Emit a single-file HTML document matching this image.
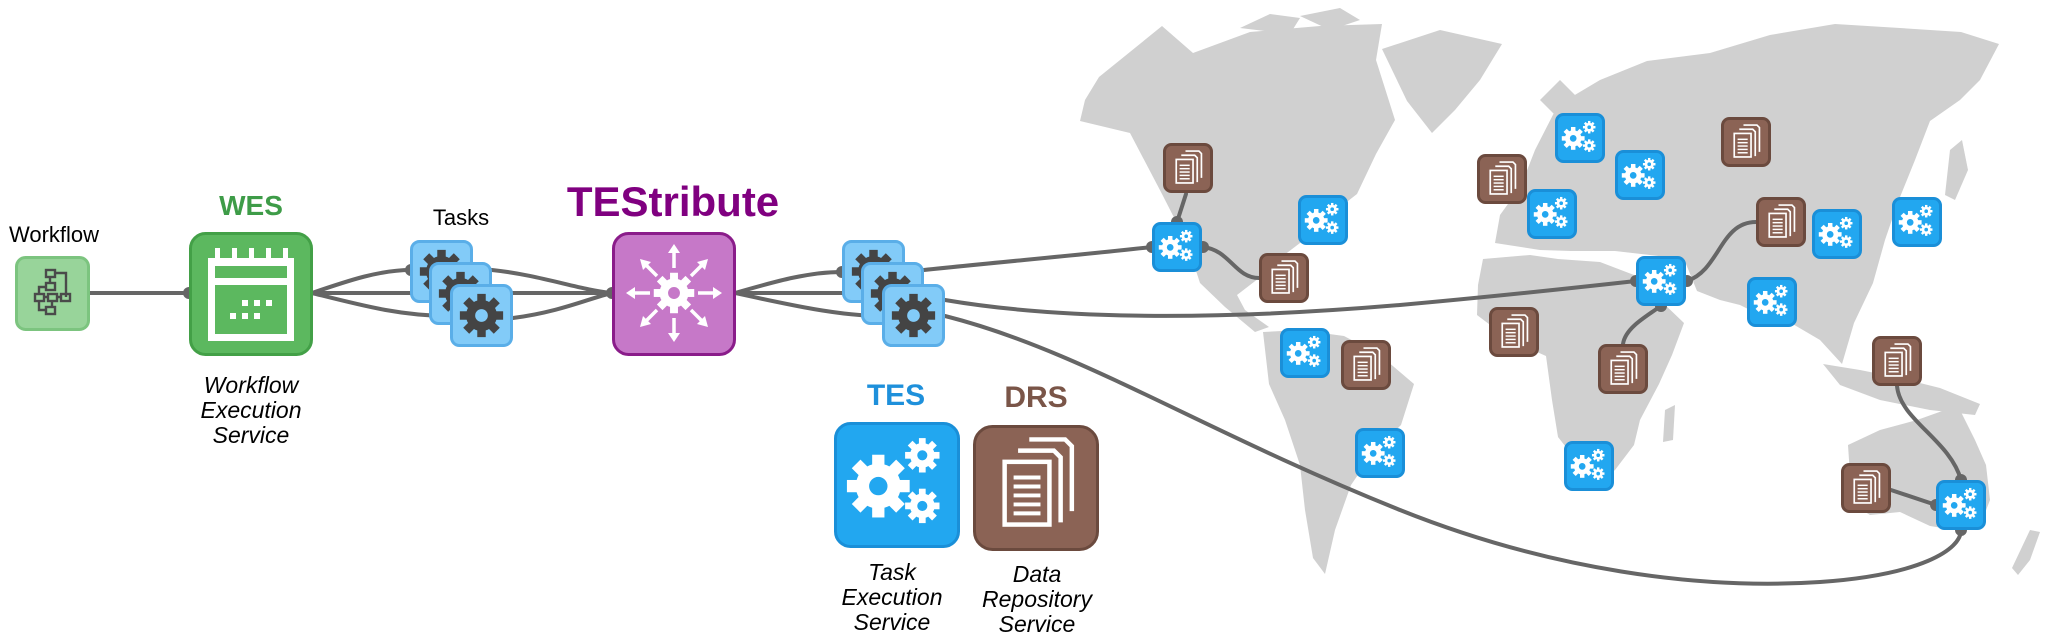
<!DOCTYPE html>
<html><head><meta charset="utf-8"><style>
html,body{margin:0;padding:0;background:#fff;}
svg{display:block;font-family:"Liberation Sans",sans-serif;}
</style></head><body>
<svg width="2067" height="634" viewBox="0 0 2067 634" xmlns="http://www.w3.org/2000/svg">
<defs>
<symbol id="gear" viewBox="-10 -10 20 20">
<g fill="currentColor">
<rect x="-1.8" y="-9.2" width="3.6" height="4" transform="rotate(0)"/>
<rect x="-1.8" y="-9.2" width="3.6" height="4" transform="rotate(45)"/>
<rect x="-1.8" y="-9.2" width="3.6" height="4" transform="rotate(90)"/>
<rect x="-1.8" y="-9.2" width="3.6" height="4" transform="rotate(135)"/>
<rect x="-1.8" y="-9.2" width="3.6" height="4" transform="rotate(180)"/>
<rect x="-1.8" y="-9.2" width="3.6" height="4" transform="rotate(225)"/>
<rect x="-1.8" y="-9.2" width="3.6" height="4" transform="rotate(270)"/>
<rect x="-1.8" y="-9.2" width="3.6" height="4" transform="rotate(315)"/>
<path fill-rule="evenodd" d="M-6.6,0a6.6,6.6 0 1,0 13.2,0a6.6,6.6 0 1,0 -13.2,0z M-2.7,0a2.7,2.7 0 1,1 5.4,0a2.7,2.7 0 1,1 -5.4,0z"/>
</g>
</symbol>
<symbol id="gears" viewBox="0 0 100 100">
<use href="#gear" x="2" y="20" width="62" height="62" color="#fff"/>
<use href="#gear" x="56" y="6" width="34" height="34" color="#fff"/>
<use href="#gear" x="56" y="52" width="34" height="34" color="#fff"/>
</symbol>
<symbol id="docs" viewBox="0 0 100 100">
<g fill="none" stroke="#fff" stroke-width="4">
<path d="M44,12 H76 L82,18 V76"/>
<path d="M34,22 H66 L72,28 V86"/>
<rect x="22" y="32" width="40" height="56"/>
</g>
<g stroke="#fff" stroke-width="3.5">
<line x1="30" y1="46" x2="54" y2="46"/><line x1="30" y1="54" x2="54" y2="54"/>
<line x1="30" y1="62" x2="54" y2="62"/><line x1="30" y1="70" x2="54" y2="70"/>
<line x1="30" y1="78" x2="54" y2="78"/>
</g>
</symbol>
<symbol id="bnode" viewBox="0 0 50 50">
<rect x="1.5" y="1.5" width="47" height="47" rx="7" fill="#22a7f0" stroke="#1a8fd8" stroke-width="3"/>
<use href="#gears" x="5" y="5" width="40" height="40"/>
</symbol>
<symbol id="dnode" viewBox="0 0 50 50">
<rect x="1.5" y="1.5" width="47" height="47" rx="7" fill="#8b6355" stroke="#6b4a3e" stroke-width="3"/>
<use href="#docs" x="4" y="3" width="42" height="42"/>
</symbol>
<symbol id="task" viewBox="0 0 63 63">
<rect x="1.5" y="1.5" width="60" height="60" rx="8" fill="#82cbf8" stroke="#5aaee8" stroke-width="3"/>
<use href="#gear" x="8" y="8" width="47" height="47" color="#444"/>
</symbol>
</defs>

<!-- world map -->
<g fill="#d0d0d0">
<path d="M1099,77 L1162,26 L1193,53 L1250,32 L1320,26 L1382,24 L1376,60 L1395,120 L1376,154 L1357,194 L1330,215 L1300,243 L1275,262 L1263,275 L1250,285 L1237,295 L1245,310 L1269,327 L1255,332 L1225,307 L1200,283 L1187,243 L1162,194 L1130,133 L1080,121 L1085,100 Z"/>
<path d="M1240,28 L1270,14 L1300,18 L1290,34 Z M1300,16 L1340,8 L1360,20 L1330,30 Z"/>
<path d="M1382,49 L1440,30 L1502,44 L1480,80 L1455,110 L1432,133 L1407,101 Z"/>
<path d="M1263,332 L1300,330 L1344,336 L1380,355 L1414,384 L1401,425 L1375,450 L1351,485 L1335,530 L1325,574 L1313,558 L1305,510 L1300,465 L1285,420 L1269,384 Z"/>
<path d="M1495,243 L1500,215 L1521,186 L1535,150 L1558,105 L1600,80 L1647,61 L1710,53 L1770,35 L1835,24 L1900,28 L1961,32 L1999,44 L1980,80 L1960,100 L1930,121 L1915,160 L1898,202 L1885,240 L1873,283 L1854,323 L1842,364 L1820,340 L1791,323 L1775,320 L1760,315 L1740,305 L1720,300 L1697,291 L1684,259 L1650,255 L1615,251 L1571,251 L1540,250 Z"/>
<path d="M1483,259 L1530,255 L1558,259 L1600,262 L1634,275 L1660,300 L1684,323 L1672,355 L1659,384 L1640,420 L1634,445 L1615,470 L1596,485 L1580,465 L1558,437 L1552,400 L1546,356 L1510,340 L1477,315 L1478,285 Z"/>
<path d="M1665,410 L1675,405 L1673,440 L1663,442 Z"/>
<path d="M1823,364 L1860,370 L1900,378 L1940,388 L1980,404 L1975,415 L1930,410 L1880,400 L1840,385 Z"/>
<path d="M1848,445 L1880,430 L1917,420 L1945,410 L1961,412 L1975,440 L1986,465 L1990,500 L1980,526 L1955,530 L1930,526 L1900,512 L1870,515 L1854,505 L1850,475 Z"/>
<path d="M2030,530 L2040,532 L2030,560 L2018,575 L2012,568 Z"/>
<path d="M1540,100 L1560,80 L1575,95 L1560,120 Z"/>
<path d="M1950,150 L1962,140 L1968,170 L1955,200 L1945,195 Z"/>
</g>

<!-- connectors -->
<g fill="none" stroke="#666" stroke-width="4" stroke-linecap="round">
<path d="M89,293 L189,293"/>
<path d="M312,293 C350,280 380,270 411,270"/>
<path d="M312,293 L430,293"/>
<path d="M312,293 C360,305 400,316 450,316"/>
<path d="M492,270 C540,275 580,290 612,293"/>
<path d="M513,293 L612,293"/>
<path d="M513,318 C560,312 590,298 612,293"/>
<path d="M735,293 C780,280 810,272 842,272"/>
<path d="M735,293 L860,293"/>
<path d="M735,293 C790,305 840,316 882,316"/>
<path d="M924,270 C1000,262 1080,255 1152,247"/>
<path d="M945,300 C1050,318 1200,322 1400,305 C1500,296 1600,285 1636,281"/>
<path d="M945,316 C1080,350 1200,430 1400,510 C1550,570 1700,590 1820,582 C1920,575 1961,550 1961,530"/>
<path d="M1177,222 L1186,194"/>
<path d="M1203,247 C1230,250 1235,278 1259,278"/>
<path d="M1687,281 C1720,270 1720,222 1756,222"/>
<path d="M1661,306 C1640,320 1625,330 1623,344"/>
<path d="M1897,386 C1900,420 1950,440 1961,480"/>
<path d="M1891,490 L1936,505"/>
</g>
<g fill="#666">
<circle cx="189" cy="293" r="6"/><circle cx="612" cy="293" r="6"/>
<circle cx="411" cy="270" r="6"/><circle cx="430" cy="293" r="6"/><circle cx="450" cy="316" r="6"/>
<circle cx="842" cy="272" r="6"/><circle cx="860" cy="293" r="6"/><circle cx="882" cy="316" r="6"/>
<circle cx="1152" cy="247" r="6"/><circle cx="1177" cy="222" r="6"/><circle cx="1203" cy="247" r="6"/>
<circle cx="1636" cy="281" r="6"/><circle cx="1687" cy="281" r="6"/><circle cx="1661" cy="306" r="6"/>
<circle cx="1961" cy="480" r="6"/><circle cx="1936" cy="505" r="6"/><circle cx="1961" cy="530" r="6"/>
</g>

<!-- Workflow -->
<text x="54" y="242" font-size="22" text-anchor="middle" fill="#000">Workflow</text>
<rect x="16.5" y="257.5" width="72" height="72" rx="9" fill="#98d49a" stroke="#7cc47f" stroke-width="3"/>
<g fill="none" stroke="#4a4a4a" stroke-width="2.4">
<rect x="46" y="270" width="9" height="7"/><rect x="46" y="283" width="9" height="7"/>
<rect x="35" y="294" width="9" height="7"/><rect x="48" y="294" width="9" height="7"/><rect x="61" y="294" width="9" height="7"/>
<rect x="46" y="307" width="9" height="7"/>
<path d="M50,277 V283 M55,273 H66 V297 M44,297 H48 M57,297 H61 M39,294 V287 H46 M39,301 V310 H46 M52,301 V307"/>
</g>

<!-- WES -->
<text x="251" y="215" font-size="28" font-weight="bold" text-anchor="middle" fill="#3e9c48">WES</text>
<rect x="190.5" y="233.5" width="121" height="121" rx="15" fill="#5cb85f" stroke="#43a047" stroke-width="3"/>
<g fill="#fff">
<rect x="208" y="258" width="86" height="8"/>
<rect x="215" y="248" width="5" height="18"/><rect x="232" y="248" width="5" height="18"/><rect x="249" y="248" width="5" height="18"/><rect x="266" y="248" width="5" height="18"/><rect x="283" y="248" width="5" height="18"/>
<path fill-rule="evenodd" d="M208,258 H294 V341 H208 Z M215,285 V334 H287 V285 Z M215,266 V278 H287 V266 Z"/>
<rect x="242" y="300" width="6" height="6"/><rect x="254" y="300" width="6" height="6"/><rect x="266" y="300" width="6" height="6"/>
<rect x="230" y="313" width="6" height="6"/><rect x="242" y="313" width="6" height="6"/><rect x="254" y="313" width="6" height="6"/>
</g>
<g font-size="23" font-style="italic" text-anchor="middle" fill="#000">
<text x="251" y="393">Workflow</text><text x="251" y="418">Execution</text><text x="251" y="443">Service</text>
</g>

<!-- Tasks left -->
<text x="461" y="225" font-size="22" text-anchor="middle" fill="#000">Tasks</text>
<use href="#task" x="410" y="240" width="63" height="63"/>
<use href="#task" x="429" y="262" width="63" height="63"/>
<use href="#task" x="450" y="284" width="63" height="63"/>

<!-- TEStribute -->
<text x="673" y="216" font-size="42" font-weight="bold" text-anchor="middle" fill="#800080">TEStribute</text>
<rect x="613.5" y="233.5" width="121" height="121" rx="15" fill="#c678c8" stroke="#8a1c8a" stroke-width="3"/>
<use href="#gear" x="652" y="271" width="44" height="44" color="#fff"/>
<g stroke="#fff" stroke-width="3.5" fill="none">
<path d="M674,268 V250 M674,318 V336 M650,293 H632 M698,293 H716 M657,276 L644,263 M691,276 L704,263 M657,310 L644,323 M691,310 L704,323"/>
</g>
<g fill="#fff">
<path d="M674,244 L668,253 H680Z M674,342 L668,333 H680Z M626,293 L635,287 V299Z M722,293 L713,287 V299Z"/>
<path d="M640,259 L651,262 L643,270Z M708,259 L697,262 L705,270Z M640,327 L651,324 L643,316Z M708,327 L697,324 L705,316Z"/>
</g>

<!-- Tasks right -->
<use href="#task" x="842" y="240" width="63" height="63"/>
<use href="#task" x="861" y="262" width="63" height="63"/>
<use href="#task" x="882" y="284" width="63" height="63"/>

<!-- TES legend -->
<text x="896" y="405" font-size="30" font-weight="bold" text-anchor="middle" fill="#1e90db">TES</text>
<rect x="835.5" y="423.5" width="123" height="123" rx="15" fill="#22a7f0" stroke="#1a8fd8" stroke-width="3"/>
<use href="#gears" x="842" y="430" width="110" height="110"/>
<g font-size="23" font-style="italic" text-anchor="middle" fill="#000">
<text x="892" y="580">Task</text><text x="892" y="605">Execution</text><text x="892" y="630">Service</text>
</g>

<!-- DRS legend -->
<text x="1036" y="407" font-size="30" font-weight="bold" text-anchor="middle" fill="#7a5548">DRS</text>
<rect x="974.5" y="426.5" width="123" height="123" rx="18" fill="#8b6355" stroke="#6b4a3e" stroke-width="3"/>
<use href="#docs" x="980" y="426" width="112" height="112"/>
<g font-size="23" font-style="italic" text-anchor="middle" fill="#000">
<text x="1037" y="582">Data</text><text x="1037" y="607">Repository</text><text x="1037" y="632">Service</text>
</g>

<!-- map nodes: blue -->
<use href="#bnode" x="1152" y="222" width="50" height="50"/>
<use href="#bnode" x="1298" y="195" width="50" height="50"/>
<use href="#bnode" x="1555" y="113" width="50" height="50"/>
<use href="#bnode" x="1615" y="150" width="50" height="50"/>
<use href="#bnode" x="1527" y="189" width="50" height="50"/>
<use href="#bnode" x="1636" y="256" width="50" height="50"/>
<use href="#bnode" x="1812" y="209" width="50" height="50"/>
<use href="#bnode" x="1892" y="197" width="50" height="50"/>
<use href="#bnode" x="1747" y="277" width="50" height="50"/>
<use href="#bnode" x="1280" y="328" width="50" height="50"/>
<use href="#bnode" x="1355" y="428" width="50" height="50"/>
<use href="#bnode" x="1564" y="441" width="50" height="50"/>
<use href="#bnode" x="1936" y="480" width="50" height="50"/>
<!-- map nodes: brown -->
<use href="#dnode" x="1163" y="143" width="50" height="50"/>
<use href="#dnode" x="1259" y="253" width="50" height="50"/>
<use href="#dnode" x="1477" y="154" width="50" height="50"/>
<use href="#dnode" x="1721" y="117" width="50" height="50"/>
<use href="#dnode" x="1756" y="197" width="50" height="50"/>
<use href="#dnode" x="1489" y="307" width="50" height="50"/>
<use href="#dnode" x="1598" y="344" width="50" height="50"/>
<use href="#dnode" x="1341" y="340" width="50" height="50"/>
<use href="#dnode" x="1872" y="336" width="50" height="50"/>
<use href="#dnode" x="1841" y="463" width="50" height="50"/>
</svg>
</body></html>
